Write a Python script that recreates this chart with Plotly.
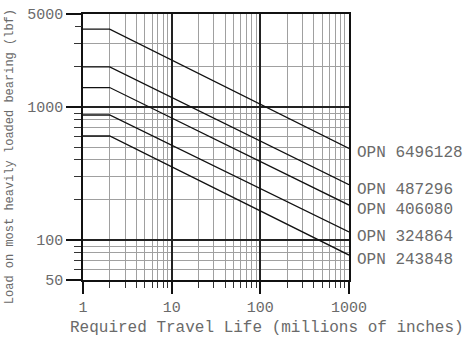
import numpy as np
import plotly.graph_objects as go

# Required travel life (millions of inches): flat up to the knee, then L^(-1/3) decay
life = [1, 2, 1000]

# Load on most heavily loaded bearing (lbf) for each part number
part_numbers = ["OPN 6496128", "OPN 487296", "OPN 406080", "OPN 324864", "OPN 243848"]
knee_loads = [3850, 2000, 1400, 870, 605]
end_loads = [488, 260, 183, 115, 77]

x_major = [1, 10, 100, 1000]
x_minor = [2, 3, 4, 5, 6, 7, 8, 9, 20, 30, 40, 50, 60, 70, 80, 90,
           200, 300, 400, 500, 600, 700, 800, 900]
y_major = [50, 100, 1000, 5000]
y_minor_grid = [60, 70, 80, 90, 200, 300, 400, 500, 600, 700, 800, 900, 2000, 3000]
y_extra_tick = [4000]

FONT = "Liberation Mono"
TXT = "#6a6a6a"

fig = go.Figure()

for name, k, e in zip(part_numbers, knee_loads, end_loads):
    fig.add_trace(go.Scatter(
        x=life, y=[k, k, e], mode="lines", name=name,
        line=dict(color="#111111", width=1.3), showlegend=False,
        hoverinfo="skip",
    ))

# empty trace so the overlaid tick-only axis is drawn
fig.add_trace(go.Scatter(x=[], y=[], yaxis="y2", showlegend=False, hoverinfo="skip"))

for name, e in zip(part_numbers, end_loads):
    fig.add_annotation(
        x=np.log10(life[-1]), y=np.log10(e), xref="x", yref="y",
        text=name, showarrow=False, xanchor="left", yanchor="middle",
        xshift=6, yshift=-5, font=dict(family=FONT, size=16, color=TXT),
    )

fig.add_annotation(
    x=0.692, y=-0.18, xref="paper", yref="paper",
    text="Required Travel Life (millions of inches)", showarrow=False,
    xanchor="center", yanchor="middle", font=dict(family=FONT, size=16, color=TXT),
)
fig.add_annotation(
    x=-0.274, y=0.462, xref="paper", yref="paper", textangle=-90,
    text="Load on most heavily loaded bearing (lbf)", showarrow=False,
    xanchor="center", yanchor="middle", font=dict(family=FONT, size=12, color=TXT),
)

fig.update_layout(
    width=465, height=340,
    margin=dict(l=83, r=116, t=14, b=60, autoexpand=False),
    paper_bgcolor="white", plot_bgcolor="white",
    xaxis=dict(
        type="log", range=[0, 3], automargin=False,
        tickmode="array", tickvals=x_major, ticktext=[str(v) for v in x_major],
        ticks="outside", ticklen=12, tickwidth=1.5, tickcolor="#111111",
        showgrid=True, gridcolor="#222222", gridwidth=1.5,
        showline=True, linecolor="#111111", linewidth=1.5, mirror=True,
        zeroline=False,
        tickfont=dict(family=FONT, size=15, color=TXT),
        minor=dict(tickmode="array", tickvals=x_minor, ticks="outside", ticklen=6,
                   tickwidth=1.2, tickcolor="#333333",
                   showgrid=True, gridcolor="#a0a0a0", gridwidth=1.2),
    ),
    yaxis=dict(
        type="log", range=[np.log10(50), np.log10(5000)], automargin=False,
        tickmode="array", tickvals=y_major, ticktext=[str(v) for v in y_major],
        ticks="outside", ticklen=15, tickwidth=1.5, tickcolor="#111111",
        showgrid=True, gridcolor="#222222", gridwidth=1.5,
        showline=True, linecolor="#111111", linewidth=1.5, mirror=True,
        zeroline=False,
        tickfont=dict(family=FONT, size=15, color=TXT),
        minor=dict(tickmode="array", tickvals=y_minor_grid, ticks="outside", ticklen=7,
                   tickwidth=1.2, tickcolor="#333333",
                   showgrid=True, gridcolor="#a0a0a0", gridwidth=1.2),
    ),
    yaxis2=dict(
        type="log", range=[np.log10(50), np.log10(5000)], overlaying="y", side="left",
        automargin=False,
        tickmode="array", tickvals=y_extra_tick, ticktext=[""],
        ticks="outside", ticklen=7, tickwidth=1.2, tickcolor="#333333",
        showgrid=False, showline=False, zeroline=False,
    ),
)

fig.write_html("out.html")
